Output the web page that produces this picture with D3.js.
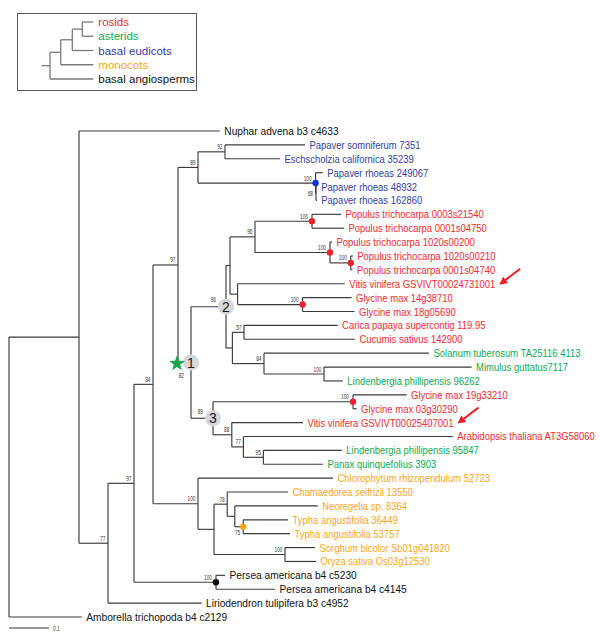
<!DOCTYPE html>
<html><head><meta charset="utf-8">
<script src="https://cdn.jsdelivr.net/npm/d3@7"></script>
<style>body{margin:0;background:#fff}svg{display:block}</style>
</head><body>
<svg id="c" width="600" height="637"></svg>
<script>
// ---------------- DATA ----------------
const taxa = [
  "Nuphar advena b3 c4633",
  "Papaver somniferum 7351",
  "Eschscholzia californica 35239",
  "Papaver rhoeas 249067",
  "Papaver rhoeas 48932",
  "Papaver rhoeas 162860",
  "Populus trichocarpa 0003s21540",
  "Populus trichocarpa 0001s04750",
  "Populus trichocarpa 1020s00200",
  "Populus trichocarpa 1020s00210",
  "Populus trichocarpa 0001s04740",
  "Vitis vinifera GSVIVT00024731001",
  "Glycine max 14g38710",
  "Glycine max 18g05690",
  "Carica papaya supercontig 119.95",
  "Cucumis sativus 142900",
  "Solanum tuberosum TA25116 4113",
  "Mimulus guttatus7117",
  "Lindenbergia phillipensis 96262",
  "Glycine max 19g33210",
  "Glycine max 03g30290",
  "Vitis vinifera GSVIVT00025407001",
  "Arabidopsis thaliana AT3G58060",
  "Lindenbergia phillipensis 95847",
  "Panax quinquefolius 3903",
  "Chlorophytum rhizopendulum 52723",
  "Chamaedorea seifrizii 13550",
  "Neoregelia sp. 8364",
  "Typha angustifolia 36449",
  "Typha angustifolia 53757",
  "Sorghum bicolor Sb01g041820",
  "Oryza sativa Os03g12530",
  "Persea americana b4 c5230",
  "Persea americana b4 c4145",
  "Liriodendron tulipifera b3 c4952",
  "Amborella trichopoda b4 c2129"
];
const taxonClade = [
  "basal angiosperms",
  "basal eudicots","basal eudicots","basal eudicots","basal eudicots","basal eudicots",
  "rosids","rosids","rosids","rosids","rosids","rosids","rosids","rosids","rosids","rosids",
  "asterids","asterids","asterids",
  "rosids","rosids","rosids","rosids",
  "asterids","asterids",
  "monocots","monocots","monocots","monocots","monocots","monocots","monocots",
  "basal angiosperms","basal angiosperms","basal angiosperms","basal angiosperms"
];
const cladeNames = ["rosids","asterids","basal eudicots","monocots","basal angiosperms"];
const cladeColors = ["#ee2a30","#14a650","#353d9f","#f6a623","#111111"];
const dotColors   = ["#e8242a","#14a650","#1432dc","#f8a21c","#111111"];

// edges: [node, parent, branch length (substitutions/site), bootstrap support]
const edges = [
  ["root","",0,null],
  ["A","root",0.175,null],
  ["Amborella trichopoda b4 c2129","root",0.182,null],
  ["Nuphar advena b3 c4633","A",0.352,null],
  ["B","A",0.0725,77],
  ["Liriodendron tulipifera b3 c4952","B",0.234,null],
  ["C","B",0.065,97],
  ["PE","C",0.205,100],
  ["Persea americana b4 c5230","PE",0.0225,null],
  ["Persea americana b4 c4145","PE",0.1475,null],
  ["D","C",0.0475,84],
  ["M","D",0.1125,100],
  ["Chlorophytum rhizopendulum 52723","M",0.3375,null],
  ["Y","M",0.04,null],
  ["Z","Y",0.033,78],
  ["Chamaedorea seifrizii 13550","Z",0.152,null],
  ["AA","Z",0.019,null],
  ["Neoregelia sp. 8364","AA",0.2075,null],
  ["TY","AA",0.021,75],
  ["Typha angustifolia 36449","TY",0.112,null],
  ["Typha angustifolia 53757","TY",0.117,null],
  ["SO","Y",0.1775,100],
  ["Sorghum bicolor Sb01g041820","SO",0.075,null],
  ["Oryza sativa Os03g12530","SO",0.0775,null],
  ["F","D",0.0625,97],
  ["G","F",0.05,89],
  ["PS","G",0.0675,92],
  ["Papaver somniferum 7351","PS",0.2,null],
  ["Eschscholzia californica 35239","PS",0.1375,null],
  ["PR","G",0.294,100],
  ["Papaver rhoeas 249067","PR",0.018,null],
  ["PR2","PR",0.001,68],
  ["Papaver rhoeas 48932","PR2",0.002,null],
  ["Papaver rhoeas 162860","PR2",0.002,null],
  ["S","F",0.0325,82],
  ["N2","S",0.0875,96],
  ["H","N2",0.01,null],
  ["J","H",0.0625,96],
  ["L","J",0.1425,100],
  ["Populus trichocarpa 0003s21540","L",0.0725,null],
  ["Populus trichocarpa 0001s04750","L",0.08,null],
  ["N","J",0.1875,100],
  ["Populus trichocarpa 1020s00200","N",0.005,null],
  ["O","N",0.052,100],
  ["Populus trichocarpa 1020s00210","O",0.005,null],
  ["Populus trichocarpa 0001s04740","O",0.004,null],
  ["K","H",0.019,null],
  ["Vitis vinifera GSVIVT00024731001","K",0.268,null],
  ["P","K",0.1625,100],
  ["Glycine max 14g38710","P",0.1225,null],
  ["Glycine max 18g05690","P",0.13,null],
  ["I","N2",0.016,null],
  ["Q","I",0.029,57],
  ["Carica papaya supercontig 119.95","Q",0.234,null],
  ["Cucumis sativus 142900","Q",0.2775,null],
  ["R","I",0.079,84],
  ["Solanum tuberosum TA25116 4113","R",0.4125,null],
  ["T","R",0.15,100],
  ["Mimulus guttatus7117","T",0.369,null],
  ["Lindenbergia phillipensis 96262","T",0.047,null],
  ["N3","S",0.055,89],
  ["U","N3",0.35,100],
  ["Glycine max 19g33210","U",0.134,null],
  ["Glycine max 03g30290","U",0.009,null],
  ["V","N3",0.047,88],
  ["Vitis vinifera GSVIVT00025407001","V",0.178,null],
  ["W","V",0.029,77],
  ["Arabidopsis thaliana AT3G58060","W",0.5235,null],
  ["X","W",0.05,95],
  ["Lindenbergia phillipensis 95847","X",0.196,null],
  ["Panax quinquefolius 3903","X",0.149,null]
];
const markedNodes = ["L","N","O","P","U","PR","TY","PE"];
const markedClade = ["rosids","rosids","rosids","rosids","rosids","basal eudicots","monocots","basal angiosperms"];
const numberedNodes = ["S","N2","N3"];
const numberedLabels = ["1","2","3"];
const starNode = "S";
const arrowTaxa = ["Vitis vinifera GSVIVT00024731001","Vitis vinifera GSVIVT00025407001"];
const scaleBarValue = 0.1;

// legend tree: [node, parent, length]
const legendEdges = [
  ["lr","",8.3],
  ["basal angiosperms","lr",43.3],
  ["l1","lr",10.7],
  ["monocots","l1",32.6],
  ["l2","l1",11.6],
  ["basal eudicots","l2",21],
  ["l3","l2",10],
  ["rosids","l3",11],
  ["asterids","l3",11]
];

// ---------------- DRAW ----------------
const FONT = "'Liberation Sans', Arial, Helvetica, sans-serif";
const svg = d3.select("#c");
const colorOf = d3.scaleOrdinal().domain(cladeNames).range(cladeColors);
const dotColorOf = d3.scaleOrdinal().domain(cladeNames).range(dotColors);
const cladeOf = new Map(taxa.map((t,i)=>[t,taxonClade[i]]));

const x = d3.scaleLinear().domain([0, 0.1]).range([9, 49]);
const y = d3.scalePoint().domain(taxa).range([131, 617]);

const root = d3.stratify().id(d=>d[0]).parentId(d=>d[1]===""?null:d[1])(edges);
root.eachBefore(n => { n.dist = n.parent ? n.parent.dist + n.data[2] : 0; n.px = x(n.dist); });
root.eachAfter(n => {
  if (n.children) {
    const ys = n.children.map(c=>c.py);
    n.py = (d3.min(ys)+d3.max(ys))/2;
  } else n.py = y(n.id);
});
const byId = new Map(root.descendants().map(n=>[n.id,n]));

const gTree = svg.append("g").attr("stroke","#3a3a3a").attr("stroke-width",1.15).attr("fill","none");
gTree.selectAll("line.h").data(root.descendants().filter(n=>n.parent)).join("line")
  .attr("x1",n=>n.parent.px).attr("x2",n=>n.px).attr("y1",n=>n.py).attr("y2",n=>n.py);
gTree.selectAll("line.v").data(root.descendants().filter(n=>n.children)).join("line")
  .attr("x1",n=>n.px).attr("x2",n=>n.px)
  .attr("y1",n=>d3.min(n.children,c=>c.py)).attr("y2",n=>d3.max(n.children,c=>c.py));

// numbered circles
numberedNodes.forEach((id,i)=>{
  const n = byId.get(id);
  svg.append("circle").attr("cx",n.px).attr("cy",n.py).attr("r",8).attr("fill","#d5d7db");
  svg.append("text").attr("x",n.px).attr("y",n.py+5).attr("text-anchor","middle")
    .attr("font-family",FONT).attr("font-size",14).attr("fill","#1a1a1a").text(numberedLabels[i]);
});

// star
{
  const n = byId.get(starNode);
  const px = n.parent.px - 1, py = n.py;
  const pts = d3.range(10).map(k=>{
    const r = k%2===0 ? 8.2 : 3.4;
    const a = -Math.PI/2 + k*Math.PI/5;
    return [px + r*Math.cos(a), py + 1 + r*Math.sin(a)];
  });
  svg.append("polygon").attr("points",pts.map(p=>p.join(",")).join(" ")).attr("fill","#16a64c");
}

// node dots
markedNodes.forEach((id,i)=>{
  const n = byId.get(id);
  svg.append("circle").attr("cx",n.px).attr("cy",n.py).attr("r",3.2).attr("fill",dotColorOf(markedClade[i]));
});

// bootstrap labels
const supNodes = root.descendants().filter(n=>n.data[3]!=null);
supNodes.forEach(n=>{
  let dx = -2.5, dy = -2.5;
  if (numberedNodes.includes(n.id) && n.id!==starNode) { dx = -10; dy = -4.5; }
  if (n.id===starNode) { dx = -7; dy = 15; }
  if (n.id==="TY") { dx = -3; dy = 8; }
  if (n.id==="PR2") { dx = -3; dy = 3; }
  if (markedNodes.includes(n.id) && n.id!=="TY") { dx = -4; }
  svg.append("text").attr("transform",`translate(${n.px+dx},${n.py+dy}) scale(0.72,1)`)
    .attr("text-anchor","end").attr("font-family",FONT).attr("font-size",6.6).attr("fill","#333")
    .text(n.data[3]);
});

// leaf labels
const leafEnds = new Map();
root.leaves().forEach(n=>{
  const clade = cladeOf.get(n.id);
  const sx = clade==="basal angiosperms" ? 0.91 : 0.845;
  const t = svg.append("text").attr("transform",`translate(${n.px+4.5},${n.py+4}) scale(${sx},1)`)
    .attr("font-family",FONT).attr("font-size",11.2).attr("fill",colorOf(clade)).text(n.id);
  leafEnds.set(n.id, n.px+4.5 + t.node().getComputedTextLength()*sx);
});

// arrows
arrowTaxa.forEach(id=>{
  const n = byId.get(id);
  const hx = leafEnds.get(id)+4, hy = n.py+1;
  const tx = hx+21, ty = hy-16;
  const len = Math.hypot(tx-hx, ty-hy), ux=(tx-hx)/len, uy=(ty-hy)/len;
  const bx = hx+ux*8, by = hy+uy*8;
  svg.append("line").attr("x1",tx).attr("y1",ty).attr("x2",bx).attr("y2",by)
    .attr("stroke","#ed1c24").attr("stroke-width",2);
  svg.append("polygon").attr("points",[[hx,hy],[bx-uy*4,by+ux*4],[bx+uy*4,by-ux*4]].map(p=>p.join(",")).join(" "))
    .attr("fill","#ed1c24");
});

// scale bar
svg.append("line").attr("x1",x(0)).attr("x2",x(scaleBarValue)).attr("y1",628).attr("y2",628)
  .attr("stroke","#333").attr("stroke-width",1);
svg.append("text").attr("transform",`translate(${x(scaleBarValue)+4},${631}) scale(0.72,1)`)
  .attr("font-family",FONT).attr("font-size",6.6).attr("fill","#333").text(String(scaleBarValue));

// ---------------- LEGEND ----------------
svg.append("rect").attr("x",17.5).attr("y",13.5).attr("width",179).attr("height",77)
  .attr("fill","none").attr("stroke","#555").attr("stroke-width",1);
const lx = d3.scaleLinear().domain([0,51.6]).range([41.7,93.3]);
const ly = d3.scalePoint().domain(cladeNames).range([22,79]);
const lroot = d3.stratify().id(d=>d[0]).parentId(d=>d[1]===""?null:d[1])(legendEdges);
lroot.eachBefore(n=>{ n.dist = n.parent ? n.parent.dist + n.data[2] : n.data[2]; n.px = lx(n.dist); });
lroot.eachAfter(n=>{
  if (n.children){ const ys=n.children.map(c=>c.py); n.py=(d3.min(ys)+d3.max(ys))/2; }
  else n.py = ly(n.id);
});
const gL = svg.append("g").attr("stroke","#7a7a7a").attr("stroke-width",1.3);
gL.selectAll("line.h").data(lroot.descendants()).join("line")
  .attr("x1",n=>n.parent ? n.parent.px : lx(0)).attr("x2",n=>n.px).attr("y1",n=>n.py).attr("y2",n=>n.py);
gL.selectAll("line.v").data(lroot.descendants().filter(n=>n.children)).join("line")
  .attr("x1",n=>n.px).attr("x2",n=>n.px)
  .attr("y1",n=>d3.min(n.children,c=>c.py)).attr("y2",n=>d3.max(n.children,c=>c.py));
svg.selectAll("text.leg").data(lroot.leaves()).join("text")
  .attr("x",n=>n.px+5).attr("y",n=>n.py+4).attr("font-family",FONT).attr("font-size",11.5)
  .attr("fill",n=>colorOf(n.id)).text(n=>n.id);
</script>
</body></html>
